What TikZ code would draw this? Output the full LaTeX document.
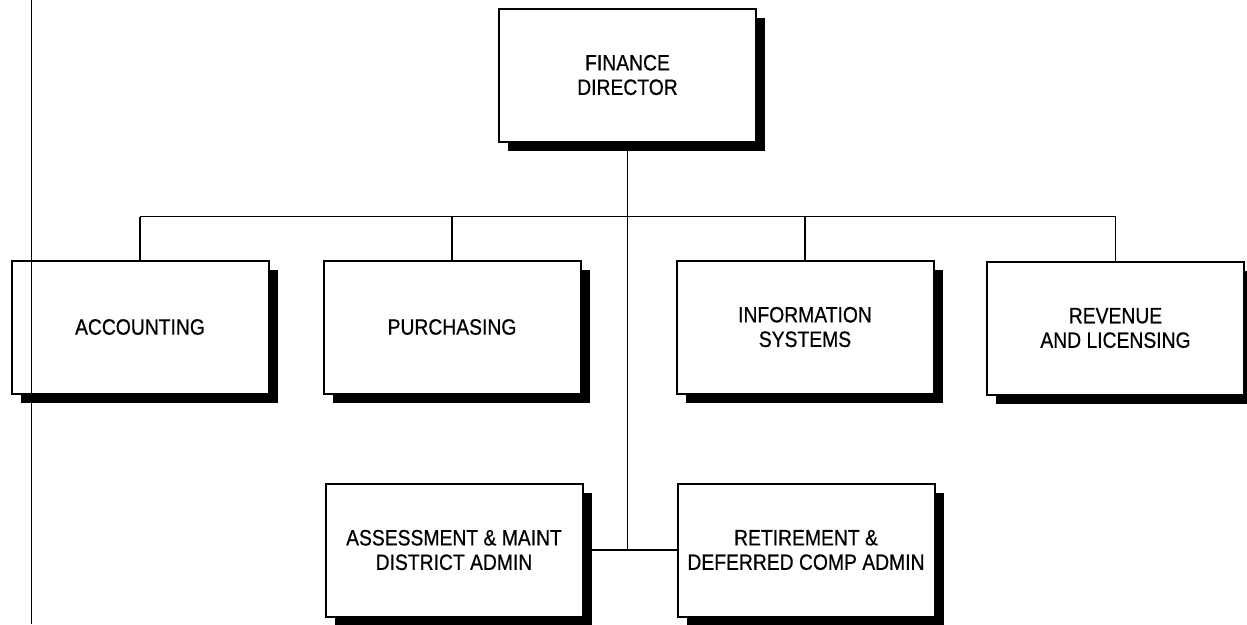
\documentclass[tikz,border=0pt]{standalone}
\usepackage{fontspec}
\setmainfont[FakeStretch=0.87,FakeBold=0.6]{Liberation Sans}
\usetikzlibrary{shadows}
\begin{document}
\begin{tikzpicture}[x=1pt,y=-1pt,
  orgbox/.style={draw, line width=2pt, fill=white, rectangle,
    minimum width=257pt, minimum height=133pt, align=center,
    font=\fontsize{22.2}{24.5}\selectfont,
    drop shadow={shadow xshift=9pt, shadow yshift=-9pt, fill=black, opacity=1}},
  link/.style={line width=1.1pt},
  buslink/.style={line width=1.8pt}]
  \useasboundingbox (0,0) rectangle (1247,624);

  % boxes
  \node[orgbox] (dir) at (627.5,75)  {FINANCE\\DIRECTOR};
  \node[orgbox] (acc) at (140,327)   {ACCOUNTING};
  \node[orgbox] (pur) at (452,327)   {PURCHASING};
  \node[orgbox] (inf) at (805,327)   {INFORMATION\\SYSTEMS};
  \node[orgbox] (rev) at (1115.5,328) {REVENUE\\AND LICENSING};
  \node[orgbox] (ass) at (454,550)   {ASSESSMENT \& MAINT\\DISTRICT ADMIN};
  \node[orgbox] (ret) at (806,550)   {RETIREMENT \&\\DEFERRED COMP ADMIN};

  % connectors
  \coordinate (bus) at (0,216.5);
  \draw[buslink] (acc.north |- bus) -- (rev.north |- bus);
  \draw[link] (acc.north) -- (acc.north |- bus);
  \draw[link] (pur.north) -- (pur.north |- bus);
  \draw[link] (inf.north) -- (inf.north |- bus);
  \draw[link] (rev.north) -- (rev.north |- bus);
  \draw[link] (dir.south) -- (dir.south |- ass.east);
  \draw[link] (ass.east) -- (ret.west);

  % margin rule
  \coordinate (ruletop) at (31.7,0);
  \coordinate (rulebot) at (31.7,624);
  \draw[line width=1.1pt] (ruletop) -- (rulebot);
\end{tikzpicture}
\end{document}
